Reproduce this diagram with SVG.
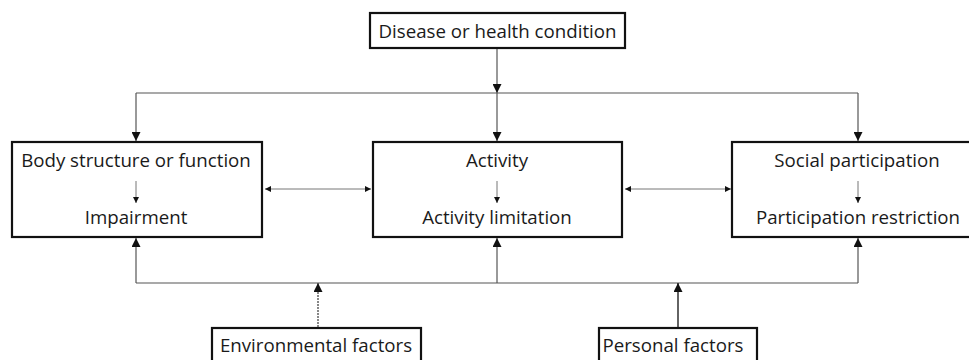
<svg xmlns="http://www.w3.org/2000/svg" width="969" height="360" viewBox="0 0 969 360">
<defs>
<style>
.box{fill:#fff;stroke:#111;stroke-width:2.2}
.t{font-family:"Open Sans","Liberation Sans",sans-serif;font-size:18.7px;fill:#1a1a1a;text-anchor:middle}
.ln{fill:none;stroke:#555;stroke-width:1.2}
.lt{fill:none;stroke:#777;stroke-width:1}
.dash{fill:none;stroke:#555;stroke-width:1.4;stroke-dasharray:2 1}
.dk{fill:none;stroke:#222;stroke-width:1.4}
</style>
<marker id="ah" viewBox="0 0 10 10" refX="10" refY="5" markerWidth="9" markerHeight="9" markerUnits="userSpaceOnUse" orient="auto">
<path d="M0,0 L10,5 L0,10 Z" fill="#111"/>
</marker>
<marker id="as" viewBox="0 0 10 10" refX="10" refY="5" markerWidth="6" markerHeight="6" markerUnits="userSpaceOnUse" orient="auto">
<path d="M0,0 L10,5 L0,10 Z" fill="#111"/>
</marker>
<marker id="ass" viewBox="0 0 10 10" refX="0" refY="5" markerWidth="6" markerHeight="6" markerUnits="userSpaceOnUse" orient="auto">
<path d="M10,0 L0,5 L10,10 Z" fill="#111"/>
</marker>
</defs>
<rect width="969" height="360" fill="#fff"/>
<g id="disease">
<rect class="box" x="370" y="13" width="255" height="35"/>
<text class="t" x="497.5" y="37.5">Disease or health condition</text>
</g>
<g id="body">
<rect class="box" x="12" y="142" width="250" height="95"/>
<text class="t" x="136" y="167">Body structure or function</text>
<text class="t" x="136" y="224">Impairment</text>
</g>
<g id="activity">
<rect class="box" x="373" y="142" width="249" height="95"/>
<text class="t" x="497" y="167">Activity</text>
<text class="t" x="497" y="224">Activity limitation</text>
</g>
<g id="social">
<rect class="box" x="732" y="142" width="245" height="95"/>
<text class="t" x="857" y="167">Social participation</text>
<text class="t" x="858" y="224">Participation restriction</text>
</g>
<g id="environmental">
<rect class="box" x="212" y="328" width="209" height="45"/>
<text class="t" x="316" y="352">Environmental factors</text>
</g>
<g id="personal">
<rect class="box" x="599" y="328" width="158" height="45"/>
<text class="t" x="673" y="352">Personal factors</text>
</g>
<g id="connectors">
<path class="ln" d="M497,49 V93" marker-end="url(#ah)"/>
<path class="ln" d="M136,93 H858"/>
<path class="ln" d="M136,93 V141" marker-end="url(#ah)"/>
<path class="ln" d="M497,93 V141" marker-end="url(#ah)"/>
<path class="ln" d="M858,93 V141" marker-end="url(#ah)"/>
<path class="lt" d="M136,181 V203" marker-end="url(#as)"/>
<path class="lt" d="M497,181 V203" marker-end="url(#as)"/>
<path class="lt" d="M858,181 V203" marker-end="url(#as)"/>
<path class="lt" d="M265,189 H371" stroke="#aaa" marker-start="url(#ass)" marker-end="url(#as)"/>
<path class="lt" d="M625,189 H731" stroke="#aaa" marker-start="url(#ass)" marker-end="url(#as)"/>
<path class="ln" d="M136,283 H858"/>
<path class="ln" d="M136,283 V238" marker-end="url(#ah)"/>
<path class="ln" d="M497,283 V238" marker-end="url(#ah)"/>
<path class="ln" d="M858,283 V238" marker-end="url(#ah)"/>
<path class="dash" d="M318,327 V283" marker-end="url(#ah)"/>
<path class="dk" d="M678,327 V283" marker-end="url(#ah)"/>
</g>
</svg>
